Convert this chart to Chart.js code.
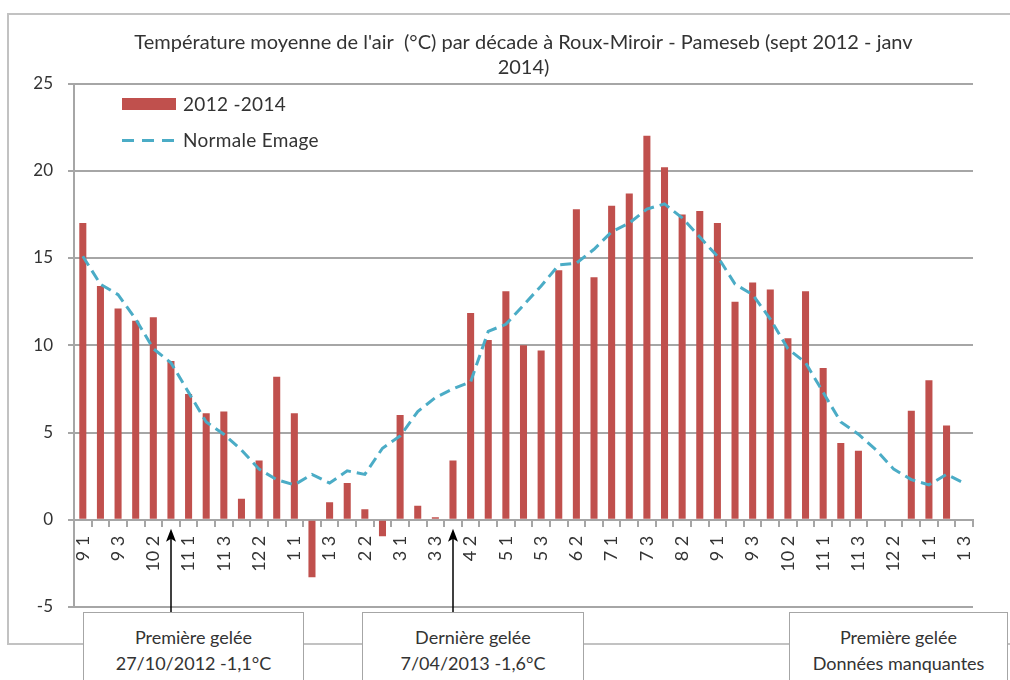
<!DOCTYPE html>
<html lang="fr">
<head>
<meta charset="utf-8">
<title>Température moyenne de l'air par décade - Roux-Miroir</title>
<script src="https://cdn.jsdelivr.net/npm/chart.js@4.4.1/dist/chart.umd.min.js"></script>
<style>
  html, body { margin: 0; padding: 0; background: #fff; }
  #wrap { position: relative; width: 1010px; height: 680px; overflow: hidden; font-family: Lato, "Open Sans", sans-serif; color: #333; }
  #frame { position: absolute; left: 7px; top: 13px; width: 1100px; height: 628px; border: 2px solid #c2c2c2; border-right: none; }
  #chart { position: absolute; left: 0; top: 0; }
  .legend { position: absolute; left: 122px; font-size: 19px; line-height: 22px; letter-spacing: 0.3px; }
  .legend .swatch { position: absolute; left: 0; width: 54px; }
  .legend span { position: absolute; left: 61px; top: 0; white-space: nowrap; }
  .note { position: absolute; top: 612px; height: 90px; background: #fff; border: 1.5px solid #a6a6a6;
          box-sizing: border-box; text-align: center; font-size: 18px; line-height: 26px; padding-top: 11px; }
</style>
</head>
<body>
<div id="wrap">
  <div id="frame"></div>
  <canvas id="chart" width="1010" height="680"></canvas>
  <div class="legend" style="top:93px">
    <div class="swatch" style="top:5px;height:12px;background:#c0504d"></div>
    <span>2012 -2014</span>
  </div>
  <div class="legend" style="top:129px">
    <div class="swatch" style="top:10px;height:3px;background:repeating-linear-gradient(90deg,#4bacc6 0 12px,transparent 12px 20px)"></div>
    <span>Normale Emage</span>
  </div>
  <div class="note" style="left:83px;width:221px">Première gelée<br>27/10/2012 -1,1°C</div>
  <div class="note" style="left:362px;width:222px">Dernière gelée<br>7/04/2013 -1,6°C</div>
  <div class="note" style="left:789px;width:219px">Première gelée<br>Données manquantes</div>
</div>
<script>
  // Decades (month + decade number), sept 2012 -> janv 2014
  const categories = [
    '9 1', '9 2', '9 3', '10 1', '10 2', '10 3', '11 1', '11 2', '11 3', '12 1', '12 2', '12 3',
    '1 1', '1 2', '1 3', '2 1', '2 2', '2 3', '3 1', '3 2', '3 3', '4 1', '4 2', '4 3',
    '5 1', '5 2', '5 3', '6 1', '6 2', '6 3', '7 1', '7 2', '7 3', '8 1', '8 2', '8 3',
    '9 1', '9 2', '9 3', '10 1', '10 2', '10 3', '11 1', '11 2', '11 3', '12 1', '12 2', '12 3',
    '1 1', '1 2', '1 3',
  ];

  // Mean air temperature per decade, 2012-2014 (°C); null = missing data
  const temp2012_2014 = [
    17.0, 13.4, 12.1, 11.4, 11.6, 9.1, 7.2, 6.1, 6.2, 1.2, 3.4, 8.2,
    6.1, -3.3, 1.0, 2.1, 0.6, -0.95, 6.0, 0.8, 0.15, 3.4, 11.85, 10.3,
    13.1, 10.0, 9.7, 14.3, 17.8, 13.9, 18.0, 18.7, 22.0, 20.2, 17.5, 17.7,
    17.0, 12.5, 13.6, 13.2, 10.4, 13.1, 8.7, 4.4, 3.95, null, null, 6.25,
    8.0, 5.4, null,
  ];

  // Normale Emage (°C)
  const normaleEmage = [
    15.1, 13.5, 12.9, 11.5, 9.8, 9.0, 7.3, 5.6, 4.9, 4.0, 2.9, 2.3,
    2.0, 2.6, 2.1, 2.8, 2.6, 4.1, 4.8, 6.2, 7.0, 7.5, 7.9, 10.8,
    11.2, 12.3, 13.4, 14.6, 14.7, 15.5, 16.5, 17.0, 17.8, 18.1, 17.3, 16.2,
    15.1, 13.5, 12.9, 11.5, 9.8, 9.0, 7.3, 5.6, 4.9, 4.0, 2.9, 2.3,
    2.0, 2.6, 2.1,
  ];

  // first / last frost decades (index into categories)
  const frostDecades = [5, 21];

  const FONT = 'Lato, "Open Sans", sans-serif';
  const GRID = '#a6a6a6';
  const TEXT = '#333';

  // arrows from the note boxes up to the decade
  const frostArrows = {
    id: 'frostArrows',
    afterDraw(chart) {
      const { ctx, scales: { x, y } } = chart;
      const tip = y.getPixelForValue(0) + 9;
      const base = y.getPixelForValue(-5) + 6;
      ctx.save();
      ctx.strokeStyle = '#000';
      ctx.fillStyle = '#000';
      ctx.lineWidth = 1.5;
      frostDecades.forEach((i) => {
        const px = Math.round(x.getPixelForValue(i));
        ctx.beginPath();
        ctx.moveTo(px, base);
        ctx.lineTo(px, tip + 8);
        ctx.stroke();
        ctx.beginPath();
        ctx.moveTo(px, tip);
        ctx.lineTo(px - 5, tip + 13);
        ctx.lineTo(px, tip + 10);
        ctx.lineTo(px + 5, tip + 13);
        ctx.closePath();
        ctx.fill();
      });
      ctx.restore();
    },
  };

  new Chart(document.getElementById('chart'), {
    type: 'bar',
    data: {
      labels: categories,
      datasets: [
        {
          type: 'line',
          label: 'Normale Emage',
          data: normaleEmage,
          borderColor: '#4bacc6',
          borderWidth: 3,
          borderDash: [11, 6],
          pointRadius: 0,
          tension: 0,
          fill: false,
          order: 0,
        },
        {
          type: 'bar',
          label: '2012 -2014',
          data: temp2012_2014,
          backgroundColor: '#c0504d',
          categoryPercentage: 1,
          barPercentage: 0.4,
          order: 1,
        },
      ],
    },
    options: {
      responsive: false,
      animation: false,
      layout: { padding: { left: 0, right: 37, top: 0, bottom: 73 } },
      plugins: {
        legend: { display: false },
        tooltip: { enabled: false },
        title: {
          display: true,
          fullSize: false,
          text: ["Température moyenne de l'air  (°C) par décade à Roux-Miroir - Pameseb (sept 2012 - janv", '2014)'],
          color: TEXT,
          font: { family: FONT, size: 20, weight: 'normal', lineHeight: 1.25 },
          padding: { top: 30.5, bottom: 3 },
        },
      },
      scales: {
        x: {
          position: { y: 0 },
          offset: true,
          grid: { display: true, drawOnChartArea: false, drawTicks: true, tickLength: 6, color: GRID, lineWidth: 2, offset: true },
          border: { display: true, color: GRID, width: 2 },
          ticks: {
            autoSkip: false,
            minRotation: 90,
            maxRotation: 90,
            padding: 10,
            color: TEXT,
            font: { family: FONT, size: 18 },
            callback: (v, i) => (i % 2 === 0 ? categories[i] : ''),
          },
        },
        y: {
          min: -5,
          max: 25,
          afterFit(scale) { scale.width = 74; },
          grid: { color: GRID, lineWidth: 2, tickLength: 6 },
          border: { display: true, color: GRID, width: 2 },
          ticks: { stepSize: 5, padding: 15, color: TEXT, font: { family: FONT, size: 17 } },
        },
      },
    },
    plugins: [frostArrows],
  });
</script>
</body>
</html>
